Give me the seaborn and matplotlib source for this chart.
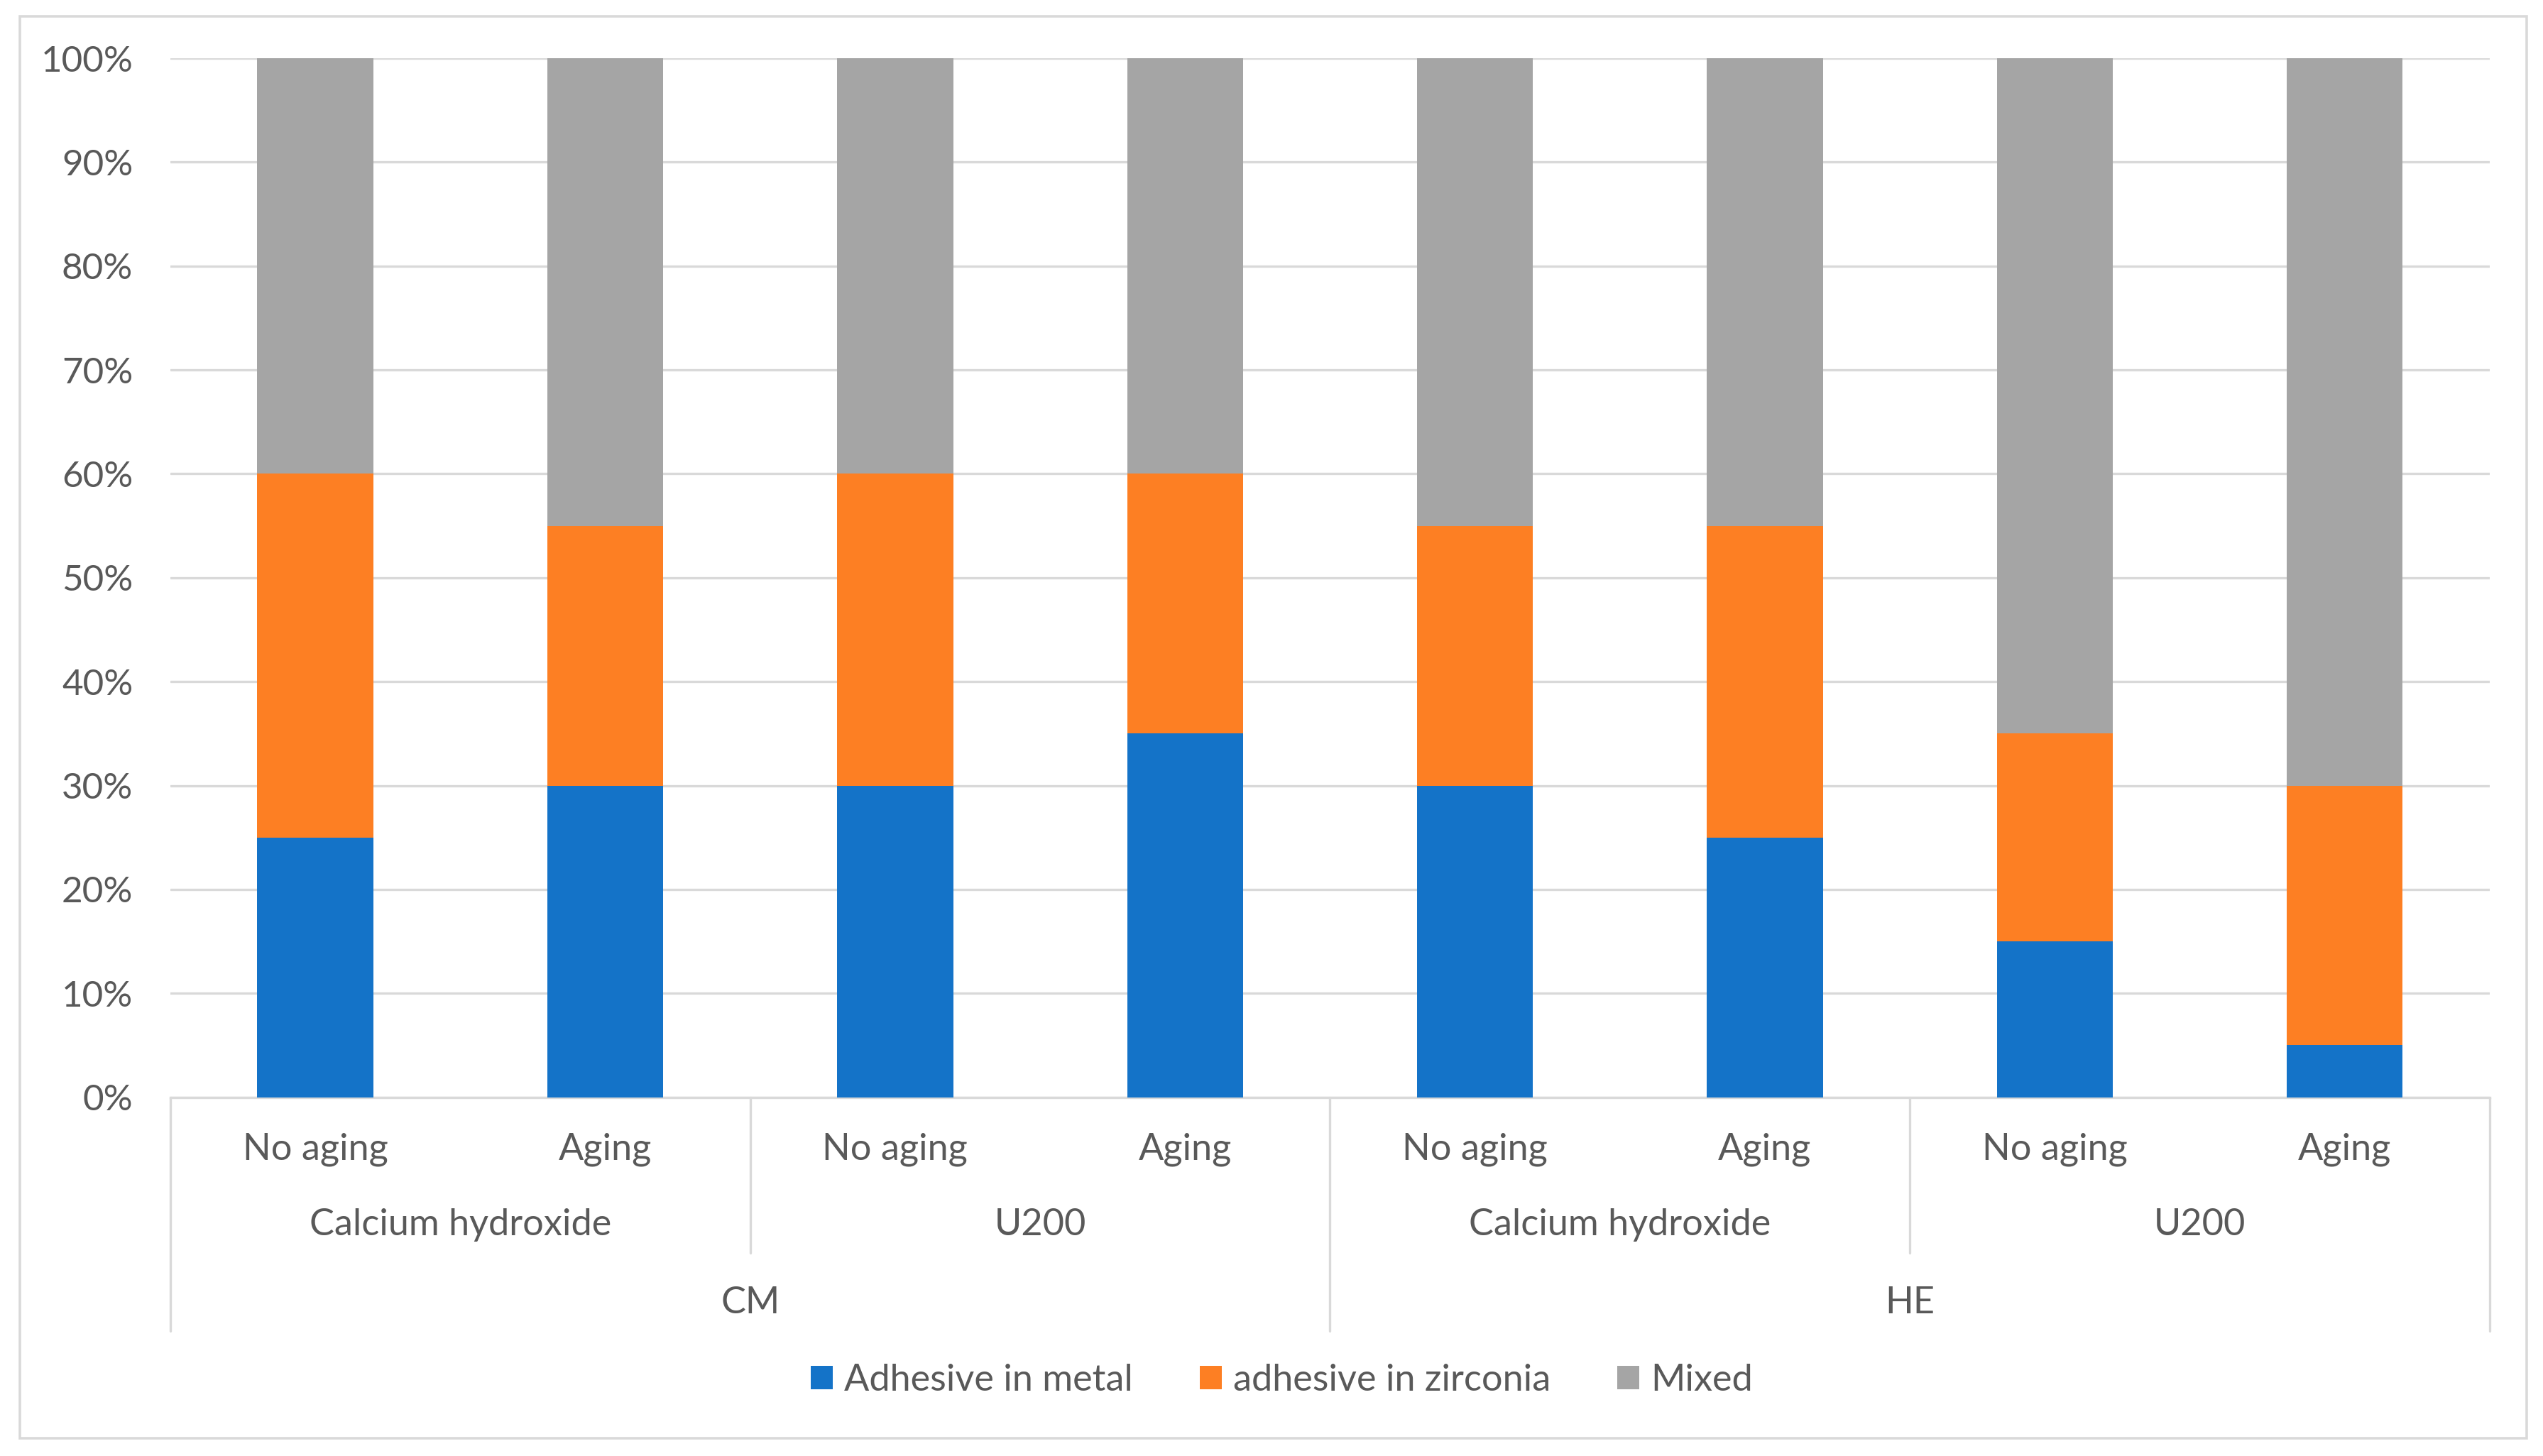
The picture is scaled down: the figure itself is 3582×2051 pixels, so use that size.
import matplotlib
matplotlib.use("Agg")
import matplotlib.pyplot as plt
import seaborn as sns
import pandas as pd
from matplotlib.patches import Rectangle, Patch
from matplotlib.ticker import PercentFormatter

# values (percent of specimens)
surface = ["CM", "CM", "CM", "CM", "HE", "HE", "HE", "HE"]
cement = ["Calcium hydroxide", "Calcium hydroxide", "U200", "U200",
          "Calcium hydroxide", "Calcium hydroxide", "U200", "U200"]
aging = ["No aging", "Aging", "No aging", "Aging",
         "No aging", "Aging", "No aging", "Aging"]
metal = [25, 30, 30, 35, 30, 25, 15, 5]
zirconia = [35, 25, 30, 25, 25, 30, 20, 25]
mixed = [40, 45, 40, 40, 45, 45, 65, 70]

series_names = ["Adhesive in metal", "adhesive in zirconia", "Mixed"]
colors = ["#1473C8", "#FD7F23", "#A5A5A5"]
text_col = "#595959"
line_col = "#D9D9D9"

keys = [f"{s}|{c}|{a}|{i}" for i, (s, c, a) in enumerate(zip(surface, cement, aging))]
df = pd.DataFrame({"key": keys, "metal": metal, "zirconia": zirconia, "mixed": mixed})
df["top1"] = df["metal"]
df["top2"] = df["metal"] + df["zirconia"]
df["top3"] = df["top2"] + df["mixed"]

sns.set_theme(style="white")
plt.rcParams["font.family"] = ["Lato", "DejaVu Sans"]

fig = plt.figure(figsize=(17.91, 10.255), dpi=200)
ax = fig.add_axes([0.067, 0.2464, 0.912, 0.7136])

# stacked bars drawn back to front from cumulative totals
for col, c in zip(["top3", "top2", "top1"], colors[::-1]):
    sns.barplot(data=df, x="key", y=col, order=keys, color=c, width=0.40,
                saturation=1, linewidth=0, ax=ax, zorder=3)

ax.set_xlim(-0.5, len(keys) - 0.5)
ax.set_ylim(0, 100)
ax.set_yticks(range(0, 101, 10))
ax.yaxis.set_major_formatter(PercentFormatter(decimals=0))
lab_size = 18.8
ax.tick_params(axis="y", length=0, pad=19, labelsize=lab_size - 0.4, labelcolor=text_col)
ax.set_xticks([])
ax.set_xlabel("")
ax.set_ylabel("")
ax.grid(axis="y", color=line_col, linewidth=1.2, zorder=0)
for side in ["left", "right", "top"]:
    ax.spines[side].set_visible(False)
ax.spines["bottom"].set_color(line_col)
ax.spines["bottom"].set_linewidth(1.2)

tr = ax.get_xaxis_transform()

# level 1: aging
for i, a in enumerate(aging):
    ax.text(i, -0.05, a, transform=tr, ha="center", va="center",
            fontsize=lab_size, color=text_col)
# level 2: cement
for j in range(0, len(keys), 2):
    ax.text(j + 0.5, -0.123, cement[j], transform=tr, ha="center", va="center",
            fontsize=lab_size, color=text_col)
# level 3: surface
for j in range(0, len(keys), 4):
    ax.text(j + 1.5, -0.198, surface[j], transform=tr, ha="center", va="center",
            fontsize=lab_size, color=text_col)

# separators between groups
for xb in [-0.5, 3.5, 7.5]:
    ax.plot([xb, xb], [0, -0.225], transform=tr, color=line_col, lw=1.2, clip_on=False)
for xb in [1.5, 5.5]:
    ax.plot([xb, xb], [0, -0.15], transform=tr, color=line_col, lw=1.2, clip_on=False)

handles = [Patch(facecolor=c, edgecolor="none", label=n) for c, n in zip(colors, series_names)]
leg = fig.legend(handles=handles, loc="center", bbox_to_anchor=(0.504, 0.052), ncol=3,
                 frameon=False, fontsize=lab_size, handlelength=0.6, handleheight=0.6,
                 handletextpad=0.3, columnspacing=1.8)
for t in leg.get_texts():
    t.set_color(text_col)

# outer chart border
fig.patches.append(Rectangle((0.0077, 0.0123), 0.9859, 0.9767, transform=fig.transFigure,
                             fill=False, edgecolor=line_col, linewidth=1.3))

fig.savefig("out.png", dpi=200, facecolor="white")
